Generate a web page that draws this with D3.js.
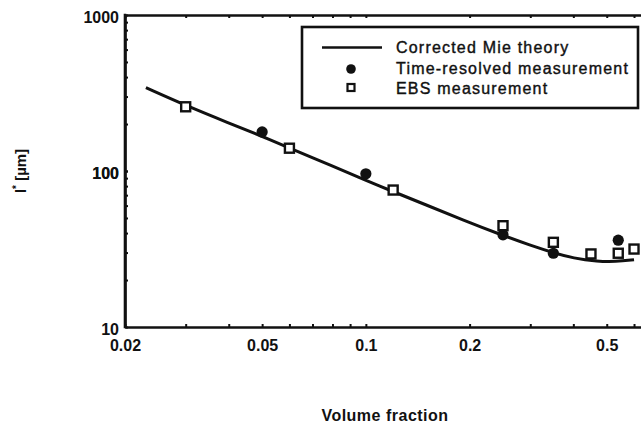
<!DOCTYPE html>
<html>
<head>
<meta charset="utf-8">
<script src="https://cdn.jsdelivr.net/npm/d3@7/dist/d3.min.js"></script>
<style>
  html, body { margin: 0; padding: 0; background: #fff; }
  svg { display: block; }
  text { font-family: "Liberation Sans", Arial, Helvetica, sans-serif; fill: #111; }
</style>
</head>
<body>
<svg id="chart" width="641" height="424"></svg>
<script>
// ---- data ----
const theoryX = [0.023, 0.03, 0.04, 0.05, 0.06, 0.08, 0.1, 0.12, 0.15, 0.19, 0.25, 0.3, 0.35, 0.4, 0.47, 0.53, 0.6];
const theoryY = [342, 263, 203, 167, 140.5, 107.5, 87.3, 73.7, 60.5, 48.8, 38.6, 33.4, 29.9, 27.6, 26.3, 26.2, 27.0];
const timeX = [0.05, 0.1, 0.25, 0.35, 0.54];
const timeY = [178, 96, 39, 29.7, 36];
const ebsX = [0.03, 0.06, 0.12, 0.25, 0.35, 0.45, 0.54, 0.6];
const ebsY = [258, 140, 75.5, 44.6, 34.9, 29.4, 29.7, 31.6];
const xTickLabels = [0.02, 0.05, 0.1, 0.2, 0.5];
const yTickLabels = [10, 100, 1000];
const legendLabels = ["Corrected Mie theory", "Time-resolved measurement", "EBS measurement"];
const xTitle = "Volume fraction";

// ---- layout ----
const svg = d3.select("#chart");
const mLeft = 125, mRight = 646, mTop = 15, mBottom = 327;
const x = d3.scaleLog().domain([0.02, 0.65]).range([mLeft, mRight]);
const y = d3.scaleLog().domain([10, 1000]).range([mBottom, mTop]);

svg.append("rect").attr("width", 641).attr("height", 424).attr("fill", "#fff");

const xMinor = [];
for (const dec of [0.01, 0.1]) for (let k = 1; k <= 9; k++) {
  const v = +(k * dec).toFixed(3);
  if (v >= 0.02 && v <= 0.65) xMinor.push(v);
}
const yMinor = [];
for (const dec of [10, 100]) for (let k = 1; k <= 10; k++) yMinor.push(k * dec);

const fmtX = d => xTickLabels.includes(d) ? String(d) : "";
const fmtY = d => yTickLabels.includes(d) ? String(d) : "";

function styleAxis(g) {
  g.select(".domain").attr("stroke", "#111").attr("stroke-width", 2.6);
  g.selectAll(".tick line").attr("stroke", "#111").attr("stroke-width", 2);
  g.selectAll(".tick text").attr("font-size", 16).attr("font-weight", "bold")
    .attr("font-family", "Liberation Sans, Arial, sans-serif").attr("fill", "#111");
}

// bottom
svg.append("g").attr("transform", `translate(0,${mBottom})`)
  .call(d3.axisBottom(x).tickValues(xMinor).tickFormat(fmtX).tickSizeInner(-3).tickSizeOuter(0).tickPadding(13))
  .call(styleAxis);
// top
svg.append("g").attr("transform", `translate(0,${mTop})`)
  .call(d3.axisTop(x).tickValues(xMinor).tickFormat("").tickSizeInner(-3).tickSizeOuter(0))
  .call(styleAxis);
// left
const gy = svg.append("g").attr("transform", `translate(${mLeft},0)`)
  .call(d3.axisLeft(y).tickValues(yMinor).tickFormat(fmtY).tickSizeInner(-3).tickSizeOuter(0).tickPadding(6))
  .call(styleAxis);
gy.selectAll(".tick text").attr("dy", "0.45em");

svg.append("line").attr("x1", mLeft).attr("x2", mLeft).attr("y1", mTop - 1.3).attr("y2", mBottom + 1.3)
  .attr("stroke", "#111").attr("stroke-width", 2.6);

// theory line
const theory = theoryX.map((v, i) => [v, theoryY[i]]);
svg.append("path").datum(theory)
  .attr("fill", "none").attr("stroke", "#111").attr("stroke-width", 3)
  .attr("d", d3.line().x(d => x(d[0])).y(d => y(d[1])).curve(d3.curveBasis));

// time-resolved circles
svg.append("g").selectAll("circle").data(timeX.map((v, i) => [v, timeY[i]])).join("circle")
  .attr("cx", d => x(d[0])).attr("cy", d => y(d[1])).attr("r", 5.6).attr("fill", "#111");

// EBS squares
const s = 9;
svg.append("g").selectAll("rect").data(ebsX.map((v, i) => [v, ebsY[i]])).join("rect")
  .attr("x", d => x(d[0]) - s / 2).attr("y", d => y(d[1]) - s / 2)
  .attr("width", s).attr("height", s)
  .attr("fill", "#fff").attr("stroke", "#111").attr("stroke-width", 2.4);

// legend
const lg = svg.append("g");
lg.append("rect").attr("x", 302).attr("y", 27).attr("width", 336).attr("height", 81)
  .attr("fill", "#fff").attr("stroke", "#111").attr("stroke-width", 2.6);
lg.append("line").attr("x1", 322).attr("x2", 382).attr("y1", 47.5).attr("y2", 47.5)
  .attr("stroke", "#111").attr("stroke-width", 2.6);
lg.append("circle").attr("cx", 351).attr("cy", 69).attr("r", 4.8).attr("fill", "#111");
lg.append("rect").attr("x", 347.5).attr("y", 84).attr("width", 7).attr("height", 7)
  .attr("fill", "#fff").attr("stroke", "#111").attr("stroke-width", 2.2);
const lgY = [53, 74, 93.5];
lg.selectAll("text.lbl").data(legendLabels).join("text").attr("class", "lbl")
  .attr("x", 396).attr("y", (d, i) => lgY[i])
  .attr("font-size", 16).attr("letter-spacing", "1.2px")
  .attr("stroke", "#111").attr("stroke-width", 0.4).text(d => d);

// axis titles
svg.append("text").attr("x", 385).attr("y", 421).attr("text-anchor", "middle")
  .attr("font-size", 16).attr("font-weight", "bold").attr("letter-spacing", "0.5px").text(xTitle);

const yt = svg.append("text").attr("transform", "translate(26,171) rotate(-90)")
  .attr("text-anchor", "middle").attr("font-size", 15).attr("font-weight", "bold");
yt.append("tspan").text("l");
yt.append("tspan").attr("font-size", 10).attr("dy", "-6").text("*");
yt.append("tspan").attr("dy", "6").text(" [µm]");
</script>
</body>
</html>
